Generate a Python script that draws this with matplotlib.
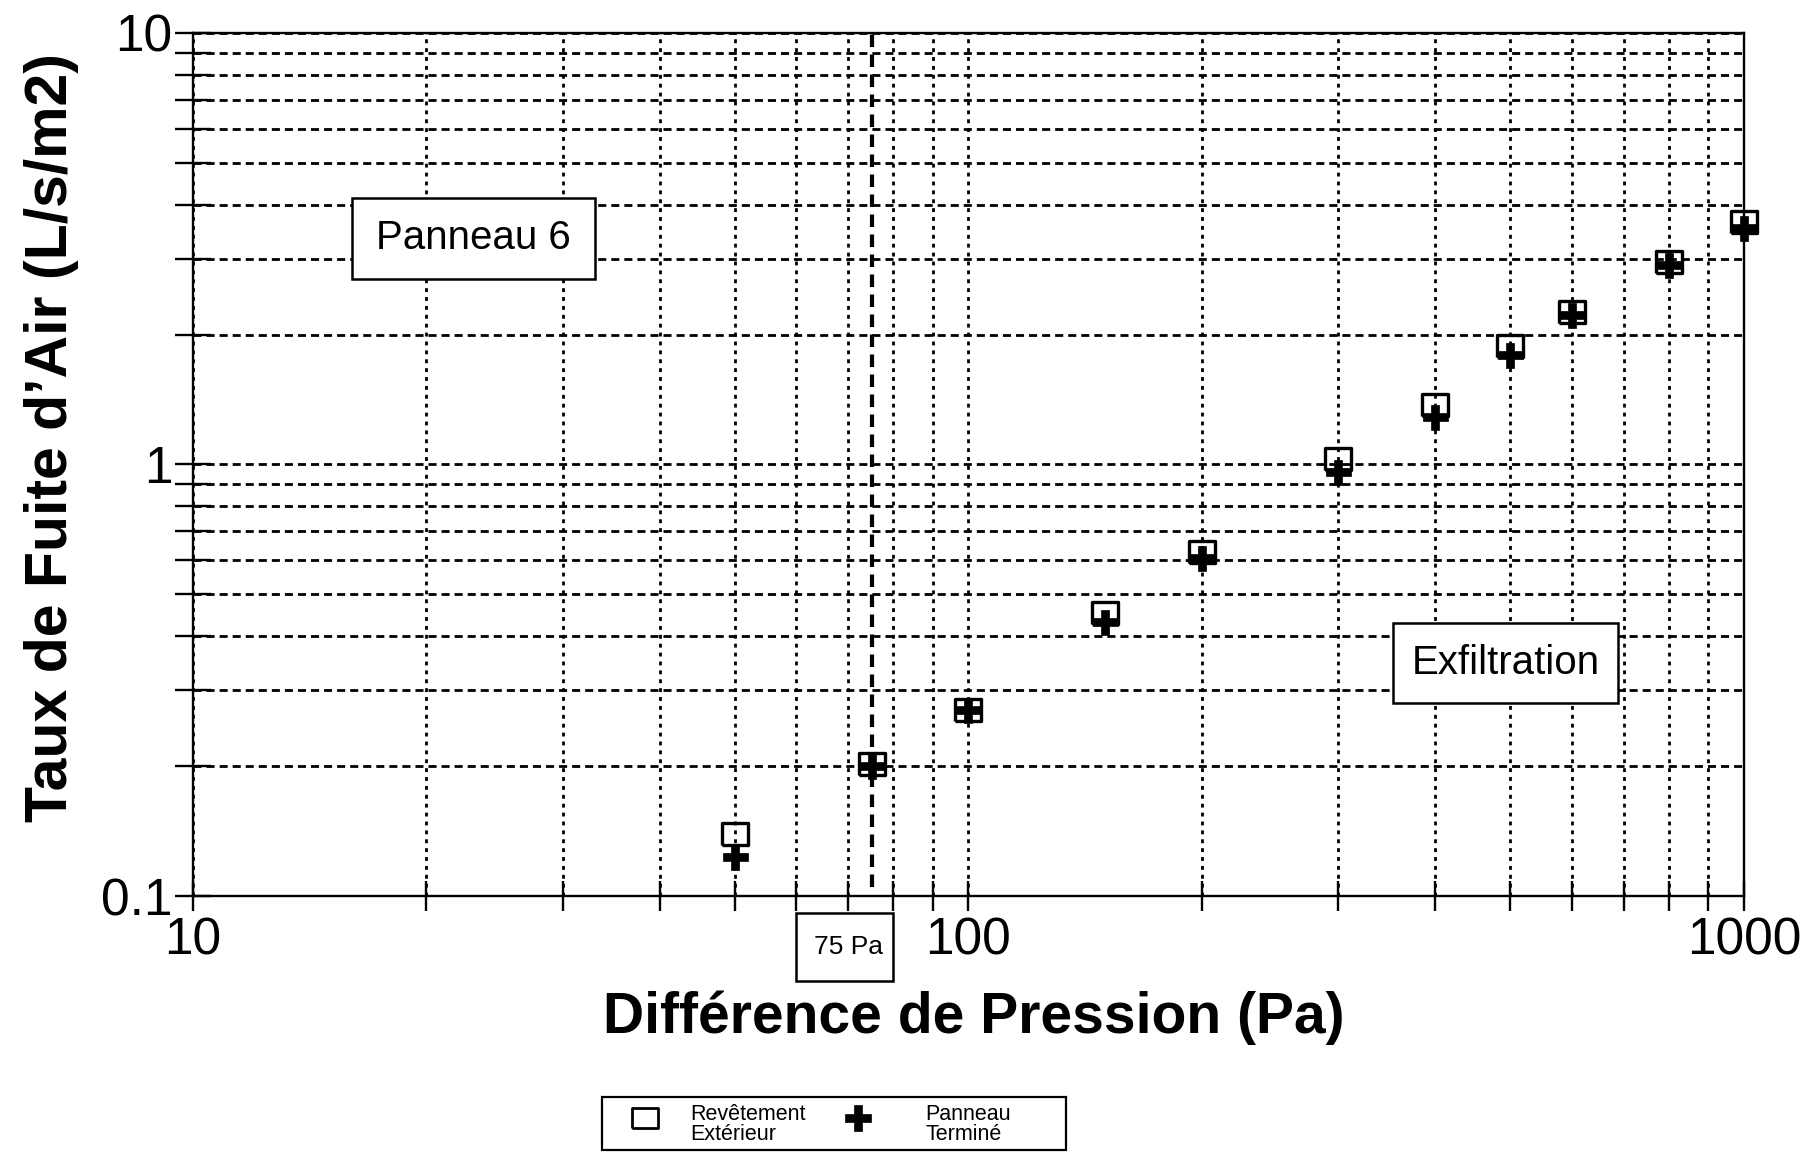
import matplotlib
matplotlib.use("Agg")
import matplotlib.pyplot as plt
from matplotlib.lines import Line2D
from matplotlib.patches import Rectangle
from matplotlib.ticker import FixedLocator, FixedFormatter, LogLocator, NullFormatter
import matplotlib.transforms as mtransforms

plt.rcParams['font.family'] = ['Liberation Sans', 'DejaVu Sans']

# Pressure difference (Pa) and air leakage rate (L/s/m2)
pressure = [50, 75, 100, 150, 200, 300, 400, 500, 600, 800, 1000]
revetement = [0.139, 0.202, 0.27, 0.453, 0.627, 1.03, 1.37, 1.88, 2.26, 2.95, 3.65]
panneau = [0.123, 0.20, 0.27, 0.431, 0.607, 0.96, 1.29, 1.79, 2.22, 2.90, 3.53]

series_labels = [("Revêtement", "Extérieur"), ("Panneau", "Terminé")]
x_ticks = [10, 100, 1000]
x_ticklabels = ["10", "100", "1000"]
y_ticks = [0.1, 1, 10]
y_ticklabels = ["0.1", "1", "10"]
reference_pressure = 75

W, H = 1807, 1152
fig = plt.figure(figsize=(W / 100, H / 100), dpi=100)
ax = fig.add_axes([0.1068, 0.2222, 0.9651 - 0.1068, 0.9714 - 0.2222])
ax.set_xscale('log')
ax.set_yscale('log')
ax.set_xlim(10, 1000)
ax.set_ylim(0.1, 10)

ax.xaxis.set_major_locator(FixedLocator(x_ticks))
ax.xaxis.set_major_formatter(FixedFormatter(x_ticklabels))
ax.xaxis.set_minor_locator(LogLocator(base=10, subs=range(2, 10)))
ax.xaxis.set_minor_formatter(NullFormatter())
ax.yaxis.set_major_locator(FixedLocator(y_ticks))
ax.yaxis.set_major_formatter(FixedFormatter(y_ticklabels))
ax.yaxis.set_minor_locator(LogLocator(base=10, subs=range(2, 10)))
ax.yaxis.set_minor_formatter(NullFormatter())

# grid: dotted verticals, dashed horizontals
ax.grid(True, which='both', axis='x', color='black', lw=2.0, dashes=(1.4, 1.8))
ax.grid(True, which='both', axis='y', color='black', lw=2.0, dashes=(2.9, 1.8))

for s in ax.spines.values():
    s.set_linewidth(1.7)
    s.set_zorder(5)

ax.tick_params(which='both', direction='inout', width=1.7,
               top=False, right=False, labelsize=37)
ax.tick_params(axis='x', which='both', length=22, pad=4)
ax.tick_params(axis='y', which='both', length=26, pad=2)

# reference pressure line
ax.axvline(reference_pressure, ymin=0.01, ymax=1, color='black', lw=3.0,
           dashes=(3.0, 1.8), zorder=3)

# data markers
rect_marker = [(-1.2, -1), (1.2, -1), (1.2, 1), (-1.2, 1), (-1.2, -1)]
square_style = dict(linestyle='none', marker=rect_marker, markersize=19,
                    markerfacecolor='none', markeredgecolor='black',
                    markeredgewidth=2.4)
plus_style = dict(linestyle='none', marker='P', markersize=18,
                  markerfacecolor='black', markeredgecolor='black',
                  markeredgewidth=0.5)
ax.plot(pressure, revetement, zorder=6, clip_on=False, **square_style)
ax.plot(pressure, panneau, zorder=7, clip_on=False, **plus_style)

# text boxes
def boxed_text(x0, y0, x1, y1, text, size, transform):
    rect = Rectangle((x0, y0), x1 - x0, y1 - y0, transform=transform,
                     facecolor='white', edgecolor='black', lw=1.8,
                     zorder=8, clip_on=False)
    ax.add_patch(rect)
    ax.text((x0 + x1) / 2, (y0 + y1) / 2, text, transform=transform,
            ha='center', va='center', fontsize=size, zorder=9)

boxed_text(0.1025, 0.7149, 0.2592, 0.8088, "Panneau 6", 29, ax.transAxes)
boxed_text(0.7737, 0.2236, 0.9188, 0.3163, "Exfiltration", 29, ax.transAxes)
blend = mtransforms.blended_transform_factory(ax.transData, ax.transAxes)
boxed_text(60, -0.0985, 80, -0.0197, "75 Pa", 19, blend)

# axis titles
fig.text(974 / W, 1 - 1018 / H, "Différence de Pression (Pa)",
         ha='center', va='center', fontsize=41, fontweight='bold')
fig.text(52 / W, 1 - 438 / H, "Taux de Fuite d’Air (L/s/m2)",
         ha='center', va='center', fontsize=42.5, fontweight='bold',
         rotation=90)

# legend box below the plot (figure pixel coordinates, origin top-left)
def fx(px):
    return px / W

def fy(py):
    return 1 - py / H

fig.patches.append(Rectangle((fx(602), fy(1150)), fx(1066) - fx(602),
                             fy(1097) - fy(1150), transform=fig.transFigure,
                             facecolor='white', edgecolor='black', lw=1.6))
legend_square = dict(square_style, markersize=18, markeredgewidth=2.0)
legend_plus = dict(plus_style, markersize=19)
fig.add_artist(Line2D([fx(645)], [fy(1118)], transform=fig.transFigure,
                      **legend_square))
fig.add_artist(Line2D([fx(858)], [fy(1118)], transform=fig.transFigure,
                      **legend_plus))
for x_left, (line1, line2) in zip([690, 925], series_labels):
    fig.text(fx(x_left), fy(1114), line1, ha='left', va='center', fontsize=15.5)
    fig.text(fx(x_left), fy(1135), line2, ha='left', va='center', fontsize=15.5)

fig.savefig("out.png", dpi=100, facecolor='white')
